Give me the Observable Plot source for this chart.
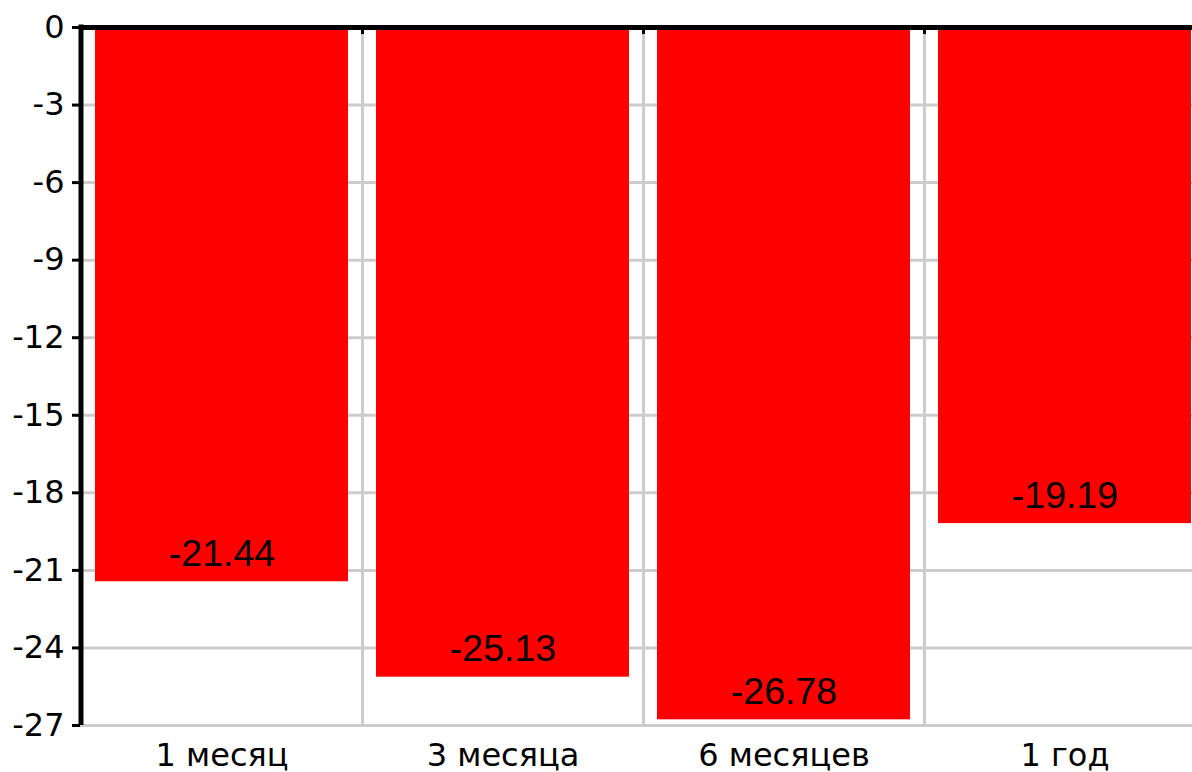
<!DOCTYPE html>
<html>
<head>
<meta charset="utf-8">
<script src="https://cdn.jsdelivr.net/npm/d3@7"></script>
<script src="https://cdn.jsdelivr.net/npm/@observablehq/plot@0.6"></script>
<style>
  html, body { margin: 0; padding: 0; background: #fff; overflow: hidden; }
  #chart svg { display: block; overflow: hidden; }
</style>
</head>
<body>
<div id="chart"></div>
<script>
const categories = ["1 месяц", "3 месяца", "6 месяцев", "1 год"];
const values = [-21.44, -25.13, -26.78, -19.19];
const yTicks = [0, -3, -6, -9, -12, -15, -18, -21, -24, -27];
const valueLabels = ["-21.44", "-25.13", "-26.78", "-19.19"];

const data = categories.map((c, i) => ({category: c, value: values[i], label: valueLabels[i]}));

const W = 1192, H = 772;
const left = 80.5;
const step = 281;
const xRange = [left, left + step * categories.length];

const chart = Plot.plot({
  width: W,
  height: H,
  marginLeft: 80,
  marginRight: 0,
  marginTop: 27,
  marginBottom: 47,
  style: {background: "#fff", overflow: "hidden"},
  x: {domain: categories, range: xRange, padding: 0, label: null},
  y: {domain: [-27, 0], label: null},
  marks: [
    Plot.gridY(yTicks, {stroke: "#cccccc", strokeOpacity: 1, strokeWidth: 3}),
    Plot.ruleX(categories.slice(1), {x: d => d, dx: -step / 2, y1: 0, y2: -27, stroke: "#cccccc", strokeWidth: 3}),
    Plot.barY(data, {x: "category", y: "value", fill: "#ff0000", insetLeft: 14, insetRight: 14}),
    Plot.ruleY([0], {stroke: "#000", strokeWidth: 5}),
    Plot.ruleX(categories.slice(1), {x: d => d, dx: -step / 2, y1: 0, y2: -0.27, stroke: "#000", strokeWidth: 3}),
    Plot.ruleX([categories[0]], {x: d => d, dx: -step / 2 - 0.5, y1: 0.1, y2: -27, stroke: "#000", strokeWidth: 5}),
    Plot.text(data, {x: "category", y: "value", text: "label", dy: -28, fill: "#000", fontSize: 37.5, fontFamily: "Liberation Sans, Arial, sans-serif", textAnchor: "middle"}),
    Plot.axisY(yTicks, {anchor: "left", tickSize: 8, tickPadding: 8, strokeWidth: 3, fontSize: 32, fontFamily: "DejaVu Sans", label: null, tickFormat: d => String(d)}),
    Plot.axisX({anchor: "bottom", tickSize: 0, tickPadding: 18, fontSize: 32, fontFamily: "DejaVu Sans", label: null})
  ]
});
document.getElementById("chart").appendChild(chart);
</script>
</body>
</html>
